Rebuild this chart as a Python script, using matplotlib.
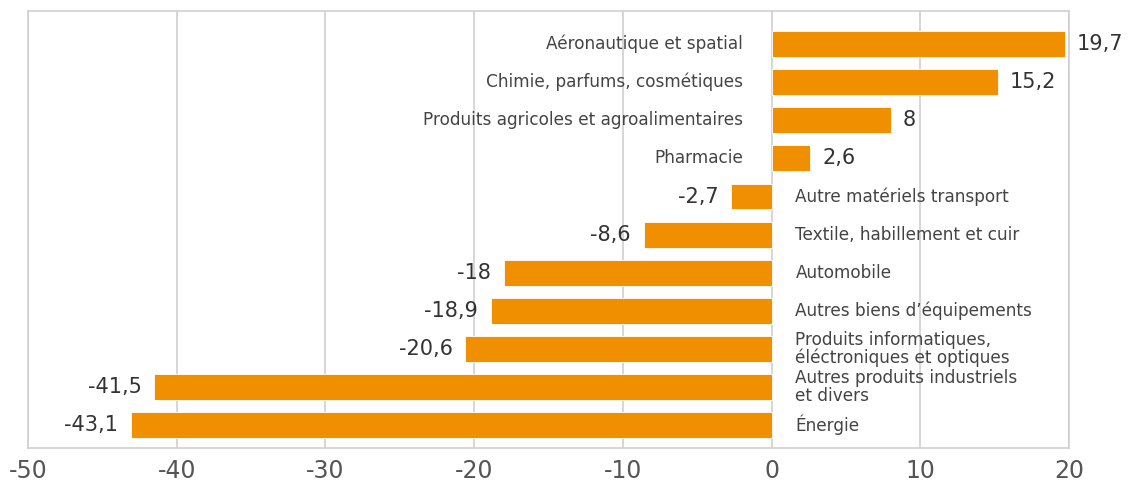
import numpy as np
import matplotlib.pyplot as plt

# donnees
categories = ["Aéronautique et spatial", "Chimie, parfums, cosmétiques",
              "Produits agricoles et agroalimentaires", "Pharmacie",
              "Autre matériels transport", "Textile, habillement et cuir",
              "Automobile", "Autres biens d\u2019équipements",
              "Produits informatiques,\néléctroniques et optiques",
              "Autres produits industriels\net divers", "Énergie"]
valeurs = [19.7, 15.2, 8, 2.6, -2.7, -8.6, -18, -18.9, -20.6, -41.5, -43.1]
ticks = [-50, -40, -30, -20, -10, 0, 10, 20]

orange = "#F09000"
gris = "#cfcfcf"
texte = "#444444"

plt.rcParams['font.family'] = ['DejaVu Sans']

fig = plt.figure(figsize=(11.29, 4.86), dpi=100)
ax = fig.add_axes([28/1129, 1 - 448/486, (1069-28)/1129, (448-11)/486])

y = np.arange(len(valeurs))
ax.barh(y, valeurs, height=0.68, color=orange, edgecolor="white", linewidth=0.6, zorder=3)

for i, v in enumerate(valeurs):
    lab = ("%g" % v).replace(".", ",")
    if v >= 0:
        ax.text(v + 0.8, i, lab, ha="left", va="center", fontsize=15, color="#333333", zorder=4)
        ax.text(-1.9, i, categories[i], ha="right", va="center", fontsize=12.2,
                color=texte, linespacing=1.0, zorder=4)
    else:
        ax.text(v - 0.85, i, lab, ha="right", va="center", fontsize=15, color="#333333", zorder=4)
        ax.text(1.6, i, categories[i], ha="left", va="center", fontsize=12.2,
                color=texte, linespacing=1.0, zorder=4)

ax.set_xlim(-50, 20)
ax.set_ylim(10.6, -0.87)
ax.set_xticks(ticks)
ax.set_xticklabels([str(t) for t in ticks], fontsize=17, color="#555555")
ax.set_yticks([])
ax.tick_params(axis="x", length=0, pad=8)
ax.grid(axis="x", color=gris, linewidth=1.2, zorder=0)
for s in ax.spines.values():
    s.set_color(gris)
    s.set_linewidth(1.2)

fig.savefig("out.png", dpi=100)
